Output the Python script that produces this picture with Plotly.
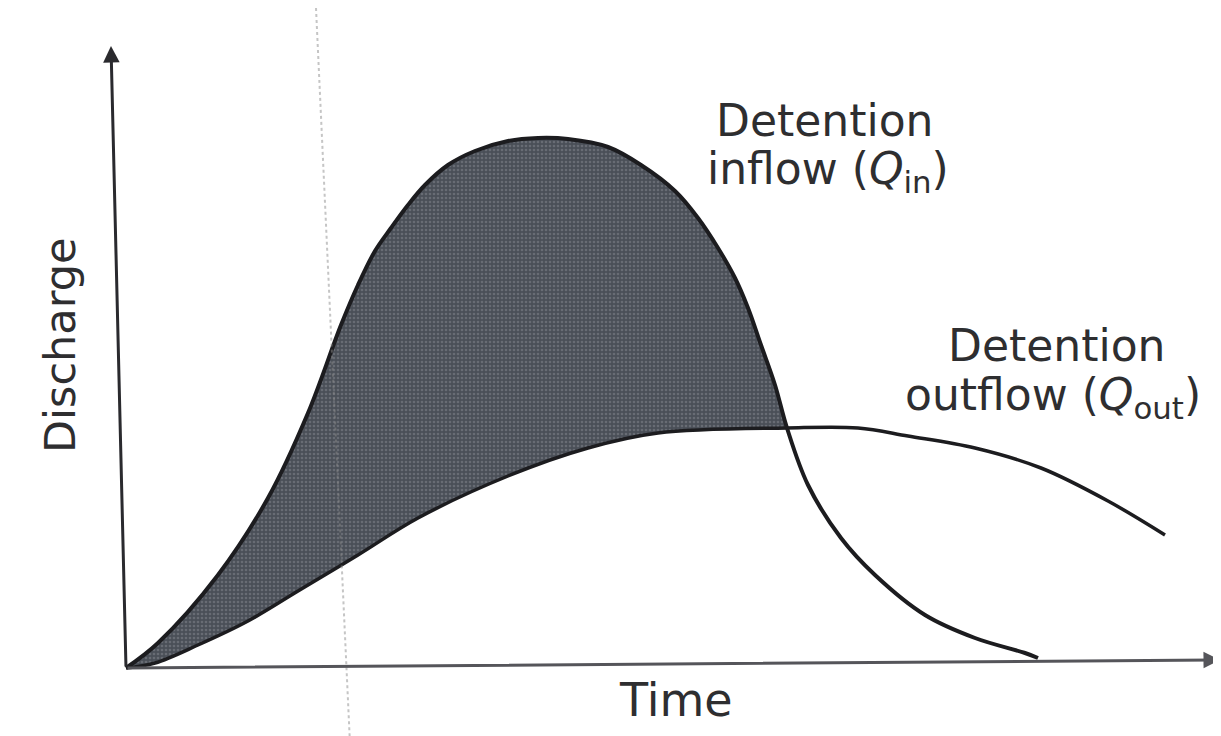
import plotly.graph_objects as go

# Time (arbitrary units) and discharge (arbitrary units)
inflow_t = [0.0, 0.32, 0.92, 1.42, 1.82, 2.15, 2.32, 2.49, 2.65, 2.82, 2.99, 3.22, 3.49, 3.82, 4.12, 4.42,
            4.82, 5.15, 5.49, 5.72, 5.92, 6.09, 6.22, 6.35, 6.49, 6.61,
            6.82, 7.15, 7.49, 7.99, 8.49, 8.99, 9.12]
inflow_q = [0.0, 0.25, 0.93, 1.70, 2.55, 3.43, 3.83, 4.17, 4.40, 4.63, 4.83, 5.03, 5.17, 5.27, 5.30, 5.29,
            5.21, 5.03, 4.77, 4.50, 4.20, 3.90, 3.60, 3.23, 2.83, 2.40,
            1.83, 1.30, 0.93, 0.53, 0.30, 0.15, 0.10]
outflow_t = [0.0, 0.29, 0.72, 1.22, 1.72, 2.32, 2.92, 3.82, 4.62, 5.32, 6.61, 7.32, 7.82, 8.49, 9.15, 9.82, 10.39]
outflow_q = [0.0, 0.05, 0.23, 0.47, 0.77, 1.13, 1.50, 1.92, 2.20, 2.35, 2.40, 2.40, 2.32, 2.20, 2.00, 1.67, 1.33]
cross_t = 6.61  # where inflow and outflow meet

ink = "#1c1c1f"
txt = "#2e2e30"
font = "DejaVu Sans"

i_in = inflow_t.index(cross_t) + 1
i_out = outflow_t.index(cross_t) + 1

fig = go.Figure()
# storage area between the hydrographs
fig.add_trace(go.Scatter(x=outflow_t[:i_out], y=outflow_q[:i_out], mode="lines",
                         line=dict(width=0, shape="spline", smoothing=1), hoverinfo="skip", showlegend=False))
fig.add_trace(go.Scatter(x=inflow_t[:i_in], y=inflow_q[:i_in], mode="lines", fill="tonexty",
                         fillcolor="#50555d",
                         fillpattern=dict(shape=".", fgcolor="#858a92", bgcolor="#4a4f57", size=4, solidity=0.35),
                         line=dict(width=0, shape="spline", smoothing=1), hoverinfo="skip", showlegend=False))
# hydrograph lines
fig.add_trace(go.Scatter(x=outflow_t, y=outflow_q, mode="lines",
                         line=dict(color=ink, width=3.5, shape="spline", smoothing=1), showlegend=False))
fig.add_trace(go.Scatter(x=inflow_t, y=inflow_q, mode="lines",
                         line=dict(color=ink, width=4, shape="spline", smoothing=1), showlegend=False))

# faint dotted scan mark
fig.add_shape(type="line", x0=1.90, y0=6.60, x1=2.24, y1=-0.76, xref="x", yref="y",
              line=dict(color="rgba(140,140,140,0.5)", width=2, dash="dot"))

annotations = [
    # axes arrows
    dict(x=10.94, y=0.08, ax=0, ay=0, axref="x", ayref="y", xref="x", yref="y", text="",
         showarrow=True, arrowhead=2, arrowsize=1.1, arrowwidth=3, arrowcolor="#55555a"),
    dict(x=-0.15, y=6.22, ax=0, ay=0, axref="x", ayref="y", xref="x", yref="y", text="",
         showarrow=True, arrowhead=2, arrowsize=1.1, arrowwidth=3, arrowcolor="#2a2a2e"),
    # labels
    dict(x=6.98, y=5.48, text="Detention", showarrow=False, font=dict(family=font, size=44, color=txt)),
    dict(x=7.02, y=4.97, text="inflow (<i>Q</i><sub>in</sub>)", showarrow=False,
         font=dict(family=font, size=44, color=txt)),
    dict(x=9.30, y=3.23, text="Detention", showarrow=False, font=dict(family=font, size=44, color=txt)),
    dict(x=9.27, y=2.71, text="outflow (<i>Q</i><sub>out</sub>)", showarrow=False,
         font=dict(family=font, size=44, color=txt)),
    dict(x=-0.66, y=3.22, text="Discharge", textangle=-90, showarrow=False,
         font=dict(family=font, size=43, color=txt)),
    dict(x=5.50, y=-0.32, text="Time", showarrow=False, font=dict(family=font, size=46, color=txt)),
]

fig.update_layout(
    width=1221, height=736,
    margin=dict(l=0, r=0, t=0, b=0),
    paper_bgcolor="white", plot_bgcolor="white",
    xaxis=dict(range=[-1.18, 11.03], visible=False, fixedrange=True),
    yaxis=dict(range=[-0.76, 6.60], visible=False, fixedrange=True),
    annotations=annotations,
    showlegend=False,
)

fig.write_html("out.html")
